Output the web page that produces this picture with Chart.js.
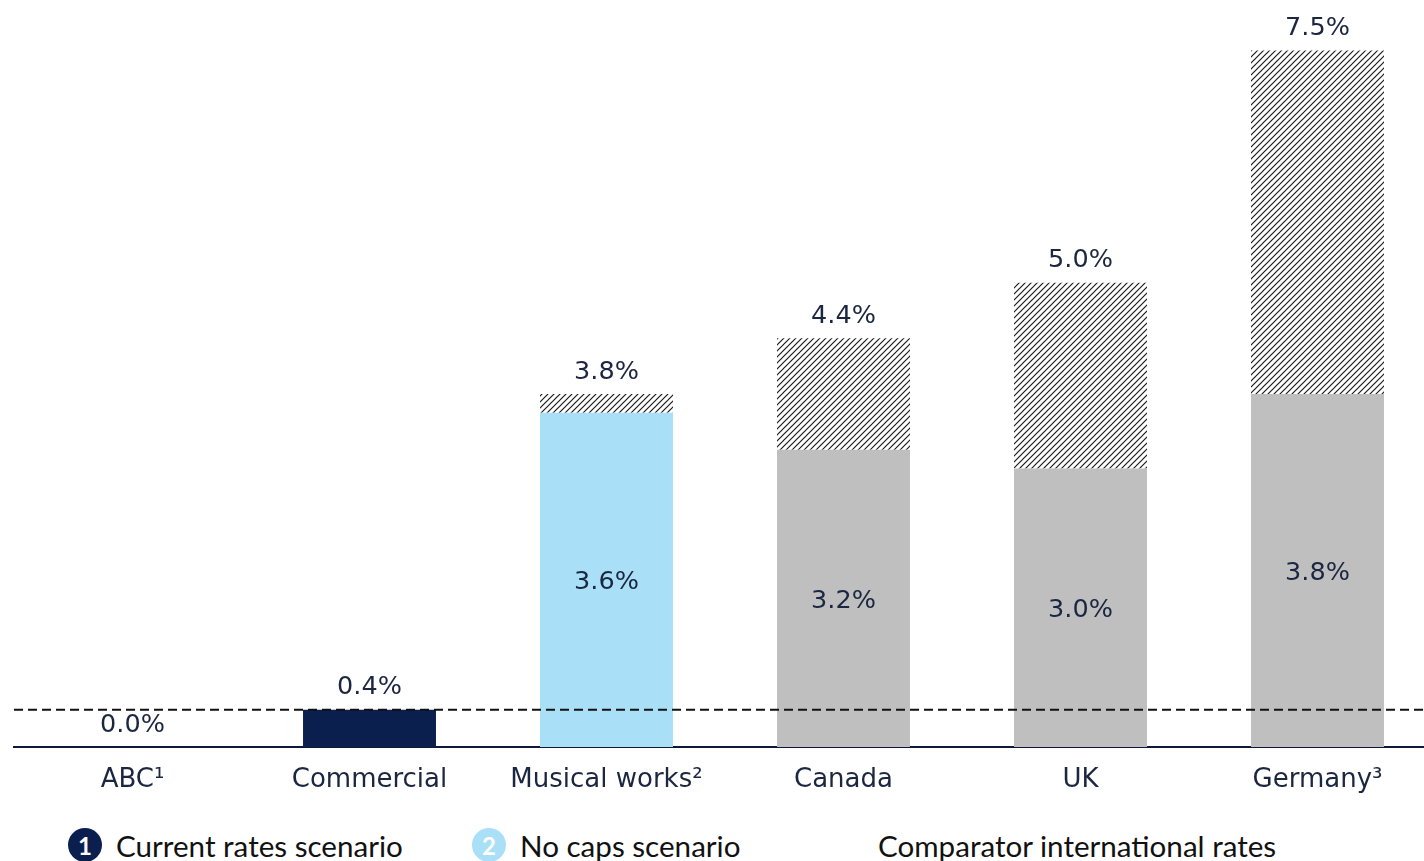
<!DOCTYPE html>
<html>
<head>
<meta charset="utf-8">
<script src="https://cdn.jsdelivr.net/npm/chart.js@4.4.1/dist/chart.umd.min.js"></script>
<style>
  html, body { margin: 0; padding: 0; background: #fff; overflow: hidden; }
  .chart-wrap { position: absolute; left: 0; top: 0; width: 1436px; height: 810px; }
  .legend { position: absolute; top: 827px; left: 0; height: 36px; font-family: Lato, "Open Sans", sans-serif; font-size: 29.6px; color: #111; }
  .legend-item { position: absolute; top: 0; display: flex; align-items: center; white-space: nowrap; height: 36px; }
  .badge { width: 34px; height: 34px; border-radius: 50%; color: #fff; font-weight: bold; font-size: 24px; display: flex; align-items: center; justify-content: center; margin-right: 14px; }
</style>
</head>
<body>
<div class="chart-wrap"><canvas id="rates"></canvas></div>
<div class="legend">
  <div class="legend-item" style="left:68px"><span class="badge" style="background:#0b1f4f">1</span>Current rates scenario</div>
  <div class="legend-item" style="left:472px"><span class="badge" style="background:#a9e0f7">2</span>No caps scenario</div>
  <div class="legend-item" style="left:878px">Comparator international rates</div>
</div>
<script>
const categories = ['ABC\u00B9', 'Commercial', 'Musical works\u00B2', 'Canada', 'UK', 'Germany\u00B3'];
const baseRates = [0.0, 0.4, 3.6, 3.2, 3.0, 3.8];
const totalRates = [0.0, 0.4, 3.8, 4.4, 5.0, 7.5];
const barColors = ['#0b1f4f', '#0b1f4f', '#a9e0f7', '#bfbfbf', '#bfbfbf', '#bfbfbf'];
const currentRate = baseRates[1];

const upliftRates = totalRates.map((t, i) => +(t - baseRates[i]).toFixed(1));

function hatchPattern() {
    const size = 6;
    const c = document.createElement('canvas');
    c.width = size;
    c.height = size;
    const g = c.getContext('2d');
    g.fillStyle = '#ffffff';
    g.fillRect(0, 0, size, size);
    g.strokeStyle = '#1a1a1a';
    g.lineWidth = 1.2;
    g.beginPath();
    g.moveTo(0, size); g.lineTo(size, 0);
    g.moveTo(-size / 2, size / 2); g.lineTo(size / 2, -size / 2);
    g.moveTo(size / 2, size * 1.5); g.lineTo(size * 1.5, size / 2);
    g.stroke();
    return g.createPattern(c, 'repeat');
}

const ctx = document.getElementById('rates').getContext('2d');

// value labels: totals above each bar, base share inside the solid part
const valueLabels = {
    id: 'valueLabels',
    afterDatasetsDraw(chart) {
        const c = chart.ctx;
        const baseMeta = chart.getDatasetMeta(0);
        const upMeta = chart.getDatasetMeta(1);
        c.save();
        c.font = '25.5px "DejaVu Sans", Verdana, sans-serif';
        c.fillStyle = '#1b2640';
        c.textAlign = 'center';
        c.textBaseline = 'middle';
        totalRates.forEach((t, i) => {
            const bar = baseMeta.data[i];
            const top = upliftRates[i] > 0 ? upMeta.data[i].y : bar.y;
            c.fillText(t.toFixed(1) + '%', bar.x, top - 22);
            if (upliftRates[i] > 0) {
                c.fillText(baseRates[i].toFixed(1) + '%', bar.x, (bar.y + bar.base) / 2 + 3);
            }
        });
        c.restore();
    }
};

// dashed reference line at the current commercial rate
const currentLine = {
    id: 'currentLine',
    afterDatasetsDraw(chart) {
        const c = chart.ctx;
        const y = chart.scales.y.getPixelForValue(currentRate);
        c.save();
        c.strokeStyle = '#111';
        c.lineWidth = 2;
        c.setLineDash([9, 5]);
        c.beginPath();
        c.moveTo(chart.chartArea.left, y);
        c.lineTo(chart.chartArea.right, y);
        c.stroke();
        c.restore();
    }
};

const rateChart = new Chart(ctx, {
    type: 'bar',
    data: {
        labels: categories,
        datasets: [{
            data: baseRates,
            backgroundColor: barColors,
            barPercentage: 0.561,
            categoryPercentage: 1
        }, {
            data: upliftRates,
            backgroundColor: hatchPattern(),
            barPercentage: 0.561,
            categoryPercentage: 1
        }]
    },
    options: {
        responsive: true,
        maintainAspectRatio: false,
        animation: false,
        layout: { padding: { left: 14, top: 4, right: 0, bottom: 0 } },
        plugins: { legend: { display: false }, tooltip: { enabled: false } },
        scales: {
            x: {
                stacked: true,
                grid: { display: false, drawTicks: false },
                border: { display: true, color: '#10183a', width: 2 },
                ticks: {
                    padding: 18,
                    color: '#1b2640',
                    font: { family: '"DejaVu Sans", Verdana, sans-serif', size: 26 }
                },
                afterFit(scale) { scale.height = 63; }
            },
            y: {
                stacked: true,
                display: false,
                min: 0,
                max: 8
            }
        }
    },
    plugins: [currentLine, valueLabels]
});
</script>
</body>
</html>
